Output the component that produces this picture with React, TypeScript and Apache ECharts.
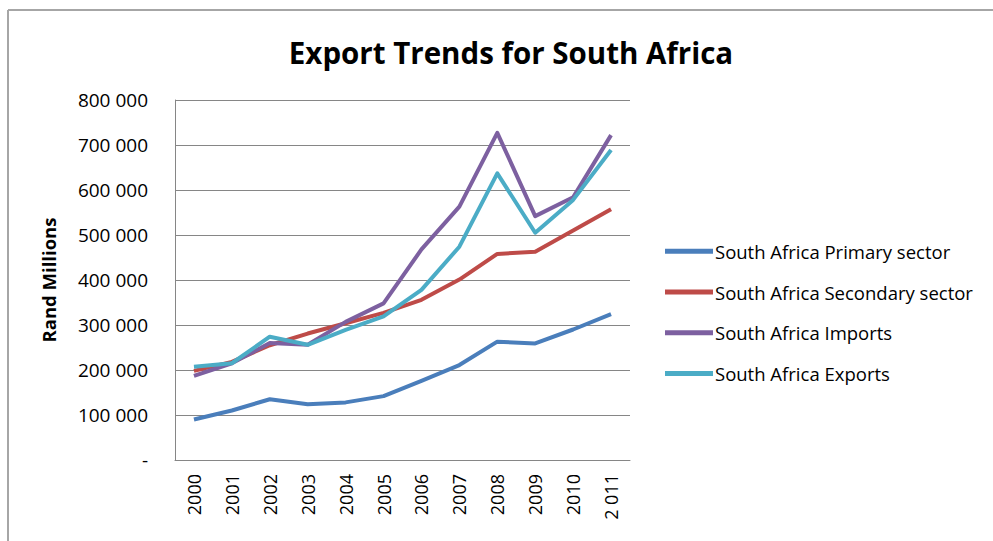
import React, { useEffect, useRef } from "react";
import * as echarts from "echarts";

const years = ["2000", "2001", "2002", "2003", "2004", "2005", "2006", "2007", "2008", "2009", "2010", "2 011"];
const primarySector = [90000, 110000, 135000, 124000, 128000, 142000, 176000, 211000, 263000, 259000, 290000, 324000];
const secondarySector = [198000, 218000, 255000, 281000, 304000, 327000, 356000, 401000, 458000, 463000, 510000, 557000];
const imports = [187000, 215000, 260000, 256000, 307000, 348000, 468000, 563000, 727000, 542000, 584000, 722000];
const exports = [207000, 215000, 274000, 256000, 289000, 319000, 378000, 474000, 637000, 505000, 578000, 689000];

const seriesNames = [
  "South Africa Primary sector",
  "South Africa Secondary sector",
  "South Africa Imports",
  "South Africa Exports",
];
const colors = ["#4A7EBB", "#BE4B48", "#7D60A0", "#4BACC6"];

const font = "'Open Sans', 'Noto Sans', sans-serif";

export default function App() {
  const ref = useRef<HTMLDivElement>(null);
  useEffect(() => {
    if (!ref.current) return;
    const chart = echarts.init(ref.current, undefined, { renderer: "svg" });
    const data = [primarySector, secondarySector, imports, exports];
    chart.setOption({
      animation: false,
      backgroundColor: "#ffffff",
      title: {
        text: "Export Trends for South Africa",
        left: 506,
        textAlign: "center",
        top: 32,
        textStyle: { fontFamily: font, fontWeight: "bold", fontSize: 29.5, color: "#000" },
      },
      graphic: [
        { type: "line", shape: { x1: 8, y1: 10, x2: 993, y2: 10 }, style: { stroke: "#a6a6a6", lineWidth: 2 } },
        { type: "line", shape: { x1: 8, y1: 10, x2: 8, y2: 541 }, style: { stroke: "#a6a6a6", lineWidth: 2 } },
      ],
      grid: { left: 175, right: 363, top: 100, bottom: 81 },
      legend: {
        orient: "vertical",
        left: 660,
        top: 236,
        icon: "rect",
        itemWidth: 48,
        itemHeight: 5,
        itemGap: 20,
        textStyle: { fontFamily: font, fontSize: 18.5, color: "#000", lineHeight: 20.7, padding: [0, 0, 0, -3] },
        data: seriesNames,
      },
      xAxis: {
        type: "category",
        data: years,
        boundaryGap: true,
        axisLine: { lineStyle: { color: "#868686", width: 1 } },
        axisTick: { show: false },
        axisLabel: { rotate: 90, margin: 14, fontFamily: font, fontSize: 18, color: "#000", interval: 0 },
      },
      yAxis: {
        type: "value",
        min: 0,
        max: 800000,
        interval: 100000,
        name: "Rand Millions",
        nameLocation: "middle",
        nameGap: 117,
        nameRotate: 90,
        nameTextStyle: { fontFamily: font, fontWeight: "bold", fontSize: 18.5, color: "#000" },
        axisLine: { show: true, lineStyle: { color: "#868686", width: 1 } },
        axisTick: { show: false },
        splitLine: { lineStyle: { color: "#868686", width: 1 } },
        axisLabel: {
          margin: 27,
          fontFamily: font,
          fontSize: 19,
          color: "#000",
          formatter: (v: number) =>
            v === 0 ? "-" : String(v).replace(/\B(?=(\d{3})+(?!\d))/g, " "),
        },
      },
      series: seriesNames.map((name, i) => ({
        name,
        type: "line",
        data: data[i],
        showSymbol: false,
        symbol: "none",
        itemStyle: { color: colors[i] },
        lineStyle: { color: colors[i], width: 4, join: "round" },
      })),
    });
    return () => chart.dispose();
  }, []);
  return <div ref={ref} style={{ width: 993, height: 541, position: "absolute", left: 0, top: 0 }} />;
}
